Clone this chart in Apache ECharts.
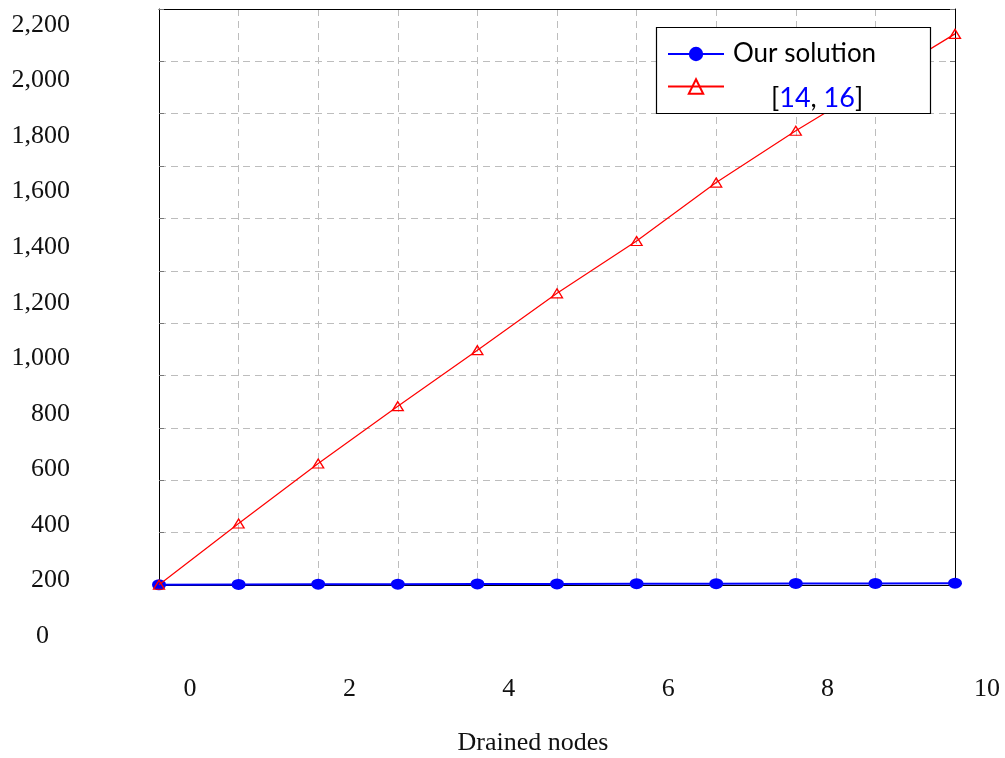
<!DOCTYPE html>
<html>
<head>
<meta charset="utf-8">
<script src="https://cdn.jsdelivr.net/npm/echarts@6/dist/echarts.min.js"></script>
<style>
html,body{margin:0;padding:0;background:#fff;}
#chart{width:1005px;height:758px;}
</style>
</head>
<body>
<div id="chart"></div>
<script>
// ---- data ----
const drainedNodes = [0, 1, 2, 3, 4, 5, 6, 7, 8, 9, 10];
const ourSolution = [1, 2, 3, 3, 4, 4, 5, 5, 6, 6, 7];
const ref1416 = [1, 235, 464, 683, 897, 1114, 1314, 1537, 1735, 1919, 2105];
const xTickLabels = ['0', '2', '4', '6', '8', '10'];
const yTickLabels = ['0', '200', '400', '600', '800', '1,000', '1,200', '1,400', '1,600', '1,800', '2,000', '2,200'];
const seriesNames = ['Our solution', '[14, 16]'];

const chart = echarts.init(document.getElementById('chart'), null, {renderer: 'canvas'});
const serif = 'Liberation Serif';
const gridDash = {type: [7, 5], color: '#bdbdbd', width: 1};
const frameAxis = {show: true, onZero: false, lineStyle: {color: '#000', width: 1}};

const option = {
  backgroundColor: '#fff',
  animation: false,
  grid: [
    {left: 159, top: 9, right: 50, bottom: 173, show: false, outerBoundsMode: 'none'},
    {left: 190, top: 25, right: 18, bottom: 122, show: false, outerBoundsMode: 'none'}
  ],
  xAxis: [
    {type: 'value', gridIndex: 0, min: 0, max: 10, interval: 1, position: 'bottom',
     axisLine: frameAxis, axisTick: {show: false}, axisLabel: {show: false},
     splitLine: {show: true, lineStyle: gridDash},
     name: 'Drained nodes', nameLocation: 'middle', nameGap: 145,
     nameTextStyle: {fontFamily: serif, fontSize: 26, color: '#111', padding: [0, 48, 0, 0]}},
    {type: 'value', gridIndex: 1, min: 0, max: 10, interval: 2,
     axisLine: {show: false}, axisTick: {show: false}, splitLine: {show: false},
     axisLabel: {margin: 40, fontFamily: serif, fontSize: 26, color: '#111',
       formatter: v => xTickLabels[Math.round(v / 2)]}},
    {type: 'value', gridIndex: 0, min: 0, max: 10, interval: 1, position: 'top',
     axisLine: frameAxis, axisTick: {show: false}, axisLabel: {show: false}, splitLine: {show: false}}
  ],
  yAxis: [
    {type: 'value', gridIndex: 0, min: 0, max: 2200, interval: 200, position: 'left',
     axisLine: frameAxis,
     axisTick: {show: true, inside: true, length: 5, lineStyle: {color: '#777'}},
     axisLabel: {show: false},
     splitLine: {show: true, lineStyle: gridDash}},
    {type: 'value', gridIndex: 1, min: 0, max: 2200, interval: 200,
     axisLine: {show: false}, axisTick: {show: false}, splitLine: {show: false},
     axisLabel: {margin: 120, align: 'right', fontFamily: serif, fontSize: 26, color: '#111',
       formatter: v => {
         const t = yTickLabels[Math.round(v / 200)];
         return v === 0 ? '{z|' + t + '}' : t;
       },
       rich: {z: {fontFamily: serif, fontSize: 26, color: '#111', padding: [0, 21, 0, 0]}}}},
    {type: 'value', gridIndex: 0, min: 0, max: 2200, interval: 200, position: 'right',
     axisLine: frameAxis,
     axisTick: {show: true, inside: true, length: 5, lineStyle: {color: '#777'}},
     axisLabel: {show: false}, splitLine: {show: false}}
  ],
  legend: [
    {data: [seriesNames[0]], left: 667, top: 39, padding: 0, itemWidth: 56, itemHeight: 18, z: 10,
     selectedMode: false,
     textStyle: {fontFamily: 'Lato', fontSize: 26, color: '#000', lineHeight: 30, padding: [0, 0, 0, 4]}},
    {data: [seriesNames[1]], left: 667, top: 60, padding: 0, itemWidth: 56, itemHeight: 18, z: 10,
     selectedMode: false,
     formatter: n => n.replace(/(\d+)/g, '{n|$1}'),
     textStyle: {fontFamily: 'Lato', fontSize: 27, color: '#000', lineHeight: 30, padding: [23, 0, 0, 42],
       rich: {n: {fontFamily: 'Lato', fontSize: 27, color: '#0000ff', lineHeight: 30}}}}
  ],
  graphic: {
    elements: [
      {type: 'rect', z: 5, shape: {x: 656.5, y: 27.5, width: 274, height: 86},
       style: {fill: '#fff', stroke: '#000', lineWidth: 1.2}}
    ]
  },
  series: [
    {name: seriesNames[0], type: 'line', xAxisIndex: 0, yAxisIndex: 0, clip: false, z: 2,
     data: drainedNodes.map((x, i) => [x, ourSolution[i]]),
     symbol: 'circle', symbolSize: [14, 11],
     itemStyle: {color: '#0000ff'},
     lineStyle: {color: '#0000ff', width: 2}},
    {name: seriesNames[1], type: 'line', xAxisIndex: 0, yAxisIndex: 0, clip: false, z: 3,
     data: drainedNodes.map((x, i) => [x, ref1416[i]]),
     symbol: 'triangle', symbolSize: [11, 9],
     itemStyle: {color: 'rgba(255,255,255,0)', borderColor: '#ff0000', borderWidth: 1.3},
     lineStyle: {color: '#ff0000', width: 1.2}}
  ]
};
chart.setOption(option);
</script>
</body>
</html>
